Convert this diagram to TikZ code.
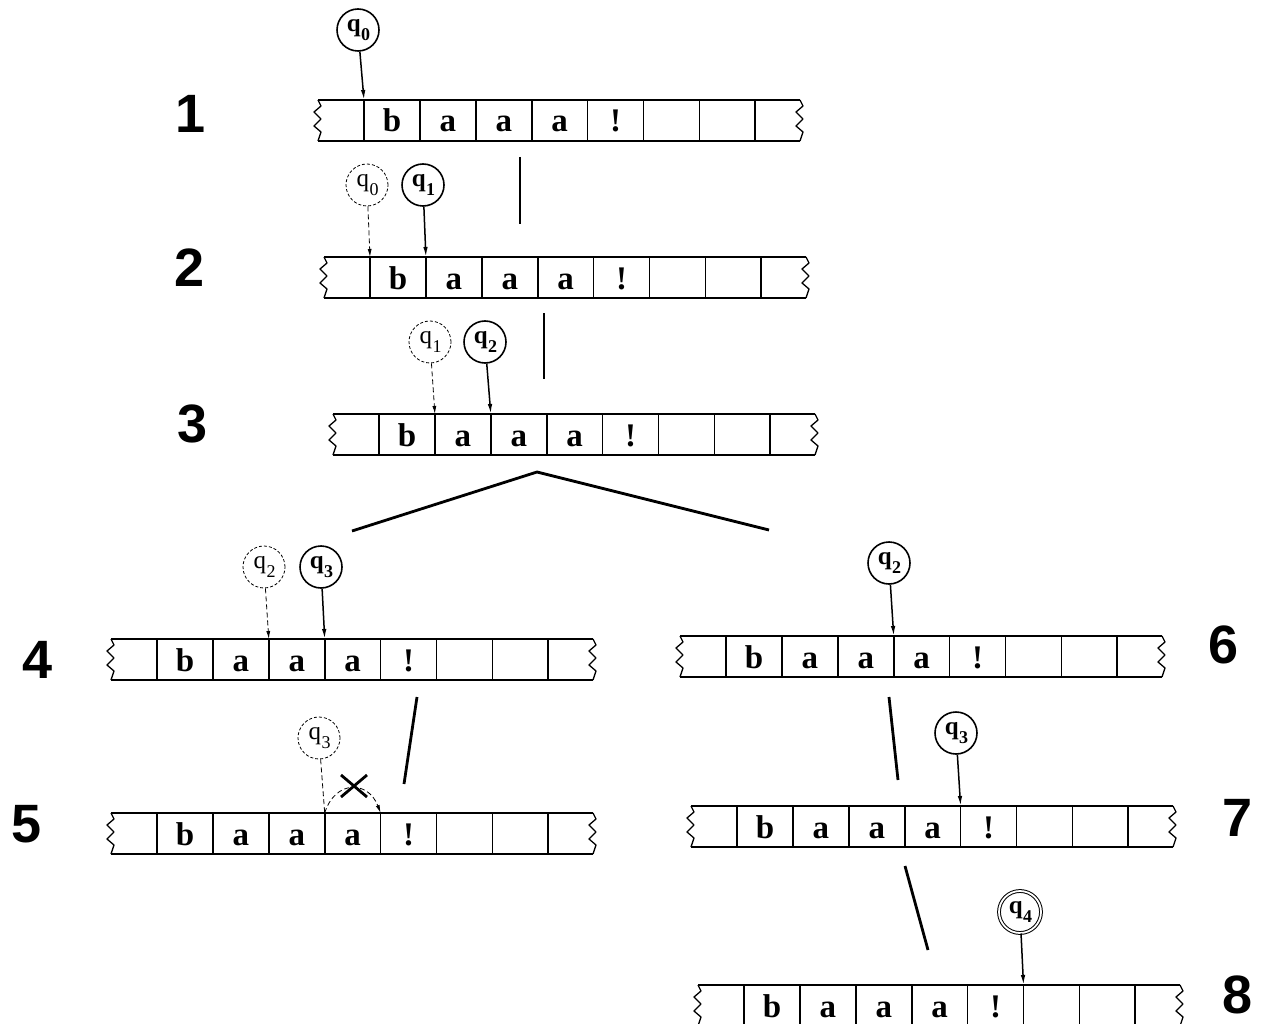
\documentclass[tikz,border=0pt]{standalone}
\usepackage{fontspec}
\setmainfont{Liberation Serif}
\newfontfamily\numfont{Liberation Sans}
\usetikzlibrary{arrows.meta}

\newcommand{\qsub}[1]{\kern1pt q\kern0.5pt\raisebox{-0.75ex}{\fontsize{18}{18}\selectfont #1}}

\tikzset{
  tapeline/.style={line width=1.7pt},
  zig/.style={line width=1.3pt, line join=round},
  cell/.style={font=\bfseries\fontsize{33}{33}\selectfont, inner sep=0pt, anchor=base},
  lab/.style={font=\numfont\bfseries\fontsize{54}{54}\selectfont, inner sep=0pt},
  state/.style={circle, draw, line width=1.6pt, minimum size=42pt, inner sep=0pt, font=\bfseries\fontsize{25}{25}\selectfont},
  oldstate/.style={circle, draw, dash pattern=on 3pt off 2pt, line width=0.8pt, minimum size=42pt, inner sep=0pt, font=\fontsize{25}{25}\selectfont},
  final/.style={state, double, double distance=1.8pt, line width=1pt},
  arr/.style={line width=1.5pt, -{Latex[length=10pt,width=4.5pt]}},
  oldarr/.style={line width=0.8pt, dash pattern=on 5pt off 3pt, -{Latex[length=8pt,width=4pt]}},
  tree/.style={line width=2.8pt},
}

\newcommand{\drawtape}[3]{%
\begin{scope}[shift={(#2,#3)}]
  \draw[tapeline] (-46,0) -- (436,0) (-46,41) -- (436,41);
  \draw[zig] (-46,0) -- ++(3,6) -- ++(-7,6) -- ++(7,7) -- ++(-7,7) -- ++(7,6) -- ++(-3,9);
  \draw[zig] (436,0) -- ++(3,6) -- ++(-7,6) -- ++(7,7) -- ++(-7,7) -- ++(7,6) -- ++(-3,9);
  \foreach \k in {0,...,7} {
    \draw[tapeline] (\k*55.9,0) -- (\k*55.9,41);
    \coordinate (#1d\k) at (\k*55.9,0);
  }
  \foreach \s [count=\i] in {b,a,a,a,!}
    \node[cell] (#1c\i) at ({(\i-0.5)*55.9},32) {\s};
\end{scope}}

\begin{document}
\begin{tikzpicture}[x=1pt,y=-1pt]
\useasboundingbox (0,0) rectangle (1263,1024);

% tapes
\drawtape{ta}{364}{100}
\drawtape{tb}{370}{257}
\drawtape{tc}{379}{414}
\drawtape{td}{157}{639}
\drawtape{te}{157}{813}
\drawtape{tf}{726}{636}
\drawtape{tg}{737}{806}
\drawtape{th}{744}{985}

% step labels
\node[lab] (n1) at (191,114) {1};
\node[lab] (n2) at (190,268) {2};
\node[lab] (n3) at (193,424) {3};
\node[lab] (n4) at (38,660) {4};
\node[lab] (n5) at (27,824) {5};
\node[lab] (n6) at (1223,645) {6};
\node[lab] (n7) at (1237,818) {7};
\node[lab] (n8) at (1237,995) {8};

% states
\node[state] (a0) at (358,30) {\qsub{0}};
\draw[arr] (a0) -- (tad0);

\node[oldstate] (b0) at (367,185) {\qsub{0}};
\node[state] (b1) at (423,185) {\qsub{1}};
\draw[oldarr] (b0) -- (tbd0);
\draw[arr] (b1) -- (tbd1);

\node[oldstate] (c1) at (430,342) {\qsub{1}};
\node[state] (c2) at (485,342) {\qsub{2}};
\draw[oldarr] (c1) -- (tcd1);
\draw[arr] (c2) -- (tcd2);

\node[oldstate] (d2) at (264,567) {\qsub{2}};
\node[state] (d3) at (321,567) {\qsub{3}};
\draw[oldarr] (d2) -- (tdd2);
\draw[arr] (d3) -- (tdd3);

\node[oldstate] (e3) at (319,738) {\qsub{3}};
\draw[line width=0.8pt, dash pattern=on 5pt off 3pt] (e3) -- (ted3);
\draw[oldarr] (ted3) .. controls (335,780) and (368,780) .. (ted4);
\coordinate (xm) at (354,786);
\draw[line width=2.8pt] ([shift={(-13,-11)}]xm) -- ([shift={(13,11)}]xm);
\draw[line width=2.8pt] ([shift={(13,-11)}]xm) -- ([shift={(-13,11)}]xm);

\node[state] (f2) at (889,563) {\qsub{2}};
\draw[arr] (f2) -- (tfd3);

\node[state] (g3) at (956,733) {\qsub{3}};
\draw[arr] (g3) -- (tgd4);

\node[final] (h4) at (1020,912) {\qsub{4}};
\draw[arr] (h4) -- (thd5);

% tree connectors
\coordinate (ab1) at (520,157);  \coordinate (ab2) at (520,224);
\coordinate (bc1) at (544,313);  \coordinate (bc2) at (544,379);
\coordinate (cx) at (537,472);
\coordinate (cd) at (352,531);   \coordinate (cf) at (769,530);
\coordinate (de1) at (417,697);  \coordinate (de2) at (404,784);
\coordinate (fg1) at (889,697);  \coordinate (fg2) at (898,780);
\coordinate (gh1) at (905,866);  \coordinate (gh2) at (928,950);
\draw[tree] (ab1) -- (ab2);
\draw[tree] (bc1) -- (bc2);
\draw[tree] (cd) -- (cx) -- (cf);
\draw[tree] (de1) -- (de2);
\draw[tree] (fg1) -- (fg2);
\draw[tree] (gh1) -- (gh2);
\end{tikzpicture}
\end{document}
